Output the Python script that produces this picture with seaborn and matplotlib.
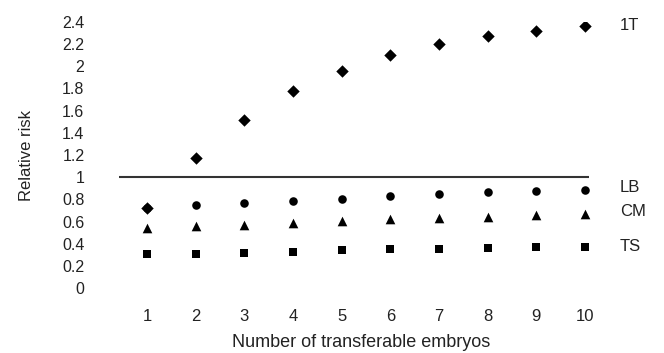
import numpy as np
import pandas as pd
import matplotlib
matplotlib.use("Agg")
import matplotlib.pyplot as plt
import seaborn as sns

# Number of transferable embryos
embryos = [1, 2, 3, 4, 5, 6, 7, 8, 9, 10]

# relative risk per group
rr_1T = [0.72, 1.17, 1.52, 1.78, 1.96, 2.10, 2.20, 2.27, 2.32, 2.36]
rr_LB = [0.72, 0.75, 0.77, 0.79, 0.805, 0.83, 0.85, 0.87, 0.88, 0.89]
rr_CM = [0.54, 0.56, 0.57, 0.59, 0.605, 0.62, 0.63, 0.64, 0.66, 0.67]
rr_TS = [0.31, 0.31, 0.32, 0.33, 0.345, 0.35, 0.355, 0.365, 0.375, 0.37]

yticks = [0, 0.2, 0.4, 0.6, 0.8, 1, 1.2, 1.4, 1.6, 1.8, 2, 2.2, 2.4]
ytick_labels = ["0", "0.2", "0.4", "0.6", "0.8", "1", "1.2", "1.4", "1.6", "1.8", "2", "2.2", "2.4"]
ref_level = 1.0

df = pd.DataFrame({
    "embryos": embryos * 4,
    "rr": rr_LB + rr_CM + rr_TS + rr_1T,
    "group": ["LB"] * 10 + ["CM"] * 10 + ["TS"] * 10 + ["1T"] * 10,
})

sns.set_style("white")
plt.rcParams["font.family"] = ["Liberation Sans", "DejaVu Sans"]
txt = "#222222"

fig = plt.figure(figsize=(6.64, 3.53), dpi=100)
ax = fig.add_axes([0.1774, 0.1833, 0.733, 0.7547])

markers = {"LB": "o", "CM": "^", "TS": "s", "1T": "D"}
msize = {"LB": 38, "CM": 48, "TS": 30, "1T": 40}
for g in ["LB", "CM", "TS", "1T"]:
    sns.scatterplot(data=df[df["group"] == g], x="embryos", y="rr", marker=markers[g],
                    s=msize[g], color="black", edgecolor="black", linewidth=0, ax=ax, zorder=3)

ax.hlines(ref_level, 0.43, 10.08, color="#333333", linewidth=1.5, zorder=2)

ax.set_xlim(0.4, 10.4)
ax.set_ylim(0, 2.4)
ax.set_xticks(embryos)
ax.set_xticklabels([str(e) for e in embryos], fontsize=12, color=txt)
ax.set_yticks(yticks)
ax.set_yticklabels(ytick_labels, fontsize=11.5, color=txt)
ax.tick_params(axis="y", length=0, pad=24)
ax.tick_params(axis="x", length=0, pad=15)
for s in ax.spines.values():
    s.set_visible(False)

ax.set_xlabel("Number of transferable embryos", fontsize=13, color=txt, labelpad=7)
ax.set_ylabel("Relative risk", fontsize=12, color=txt, labelpad=20)

# series labels on the right
for g, yv in [("1T", 2.37), ("LB", 0.91), ("CM", 0.69), ("TS", 0.375)]:
    ax.text(10.72, yv, g, fontsize=12, color=txt, va="center", ha="left", clip_on=False)

fig.savefig("out.png", dpi=100)
